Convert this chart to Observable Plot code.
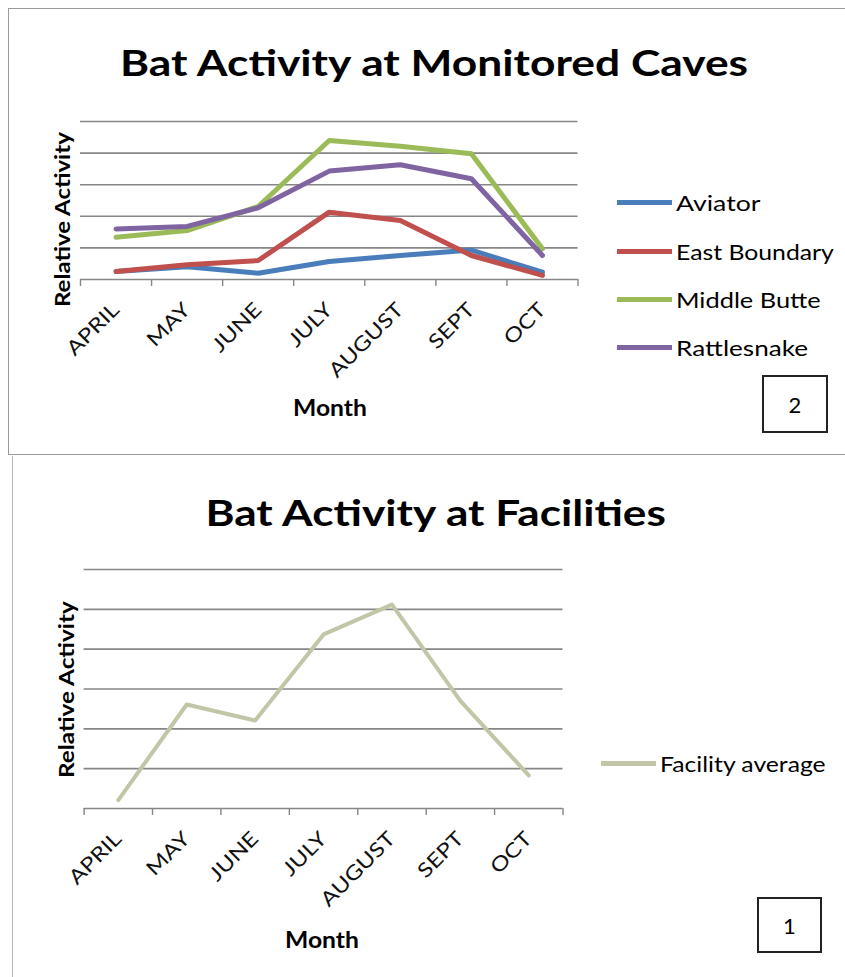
<!DOCTYPE html>
<html><head><meta charset="utf-8">
<script src="https://cdn.jsdelivr.net/npm/d3@7"></script>
<script src="https://cdn.jsdelivr.net/npm/@observablehq/plot@0.6"></script>
<style>
body{margin:0;background:#fff;width:845px;height:977px;position:relative;overflow:hidden;font-family:Lato,"Open Sans",sans-serif;color:#000}
.abs{position:absolute}
.c{white-space:nowrap;line-height:1.2}
.title{font-weight:bold;font-size:37px}
.ylab{font-weight:bold;font-size:21px;white-space:nowrap;line-height:1.2}
.xlab{font-weight:bold;font-size:22px}
.leg{font-size:21px;white-space:nowrap;display:flex;align-items:center;line-height:1.2}
.leg .t{display:inline-block;transform-origin:0 50%}
.sw{display:inline-block;width:55px;height:5px;margin-right:4px}
.box{border:2px solid #222;font-size:22px;display:flex;align-items:center;justify-content:center;box-sizing:border-box}
</style></head><body>
<script>
// ---- data ----
const months = ["APRIL", "MAY", "JUNE", "JULY", "AUGUST", "SEPT", "OCT"];
const seriesNames = ["Aviator", "East Boundary", "Middle Butte", "Rattlesnake"];
const aviator      = [0.25, 0.40, 0.20, 0.57, 0.76, 0.93, 0.23];
const eastBoundary = [0.25, 0.47, 0.60, 2.13, 1.87, 0.76, 0.13];
const middleButte  = [1.34, 1.55, 2.31, 4.40, 4.22, 3.98, 0.97];
const rattlesnake  = [1.60, 1.68, 2.27, 3.43, 3.63, 3.19, 0.76];
const seriesColors = ["#4A7EBB", "#C0504D", "#9BBB59", "#8064A2"];
const facilityName = "Facility average";
const facility     = [0.21, 2.61, 2.21, 4.37, 5.12, 2.70, 0.83];
const facilityColor = "#C2C5A6";
const topTitle = "Bat Activity at Monitored Caves";
const bottomTitle = "Bat Activity at Facilities";
const yTitle = "Relative Activity";
const xTitle = "Month";
const topTag = "2";
const bottomTag = "1";
const topGridCount = 5;
const bottomGridCount = 6;

const TICK_STRETCH = 1.2;

function el(tag, cls, css, text) {
  const e = document.createElement(tag);
  if (cls) e.className = cls;
  Object.assign(e.style, css);
  if (text != null) e.textContent = text;
  document.body.appendChild(e);
  return e;
}
// centered text stretched horizontally to a target width
function ctext(cls, cx, cy, text, targetW, rotate) {
  const e = el("div", "abs c " + cls, {left: "0px", top: "0px"}, text);
  const w = e.offsetWidth, h = e.offsetHeight;
  const s = targetW / w;
  e.style.left = (cx - w / 2) + "px";
  e.style.top = (cy - h / 2) + "px";
  e.style.transform = (rotate ? "rotate(" + rotate + "deg) " : "") + "scaleX(" + s + ")";
  return e;
}
function legend(x, cy, color, name, targetW) {
  const row = el("div", "abs leg", {left: x + "px", top: "0px"});
  const sw = document.createElement("span"); sw.className = "sw"; sw.style.background = color;
  const t = document.createElement("span"); t.className = "t"; t.textContent = name;
  row.appendChild(sw); row.appendChild(t);
  row.style.top = (cy - row.offsetHeight / 2) + "px";
  t.style.transform = "scaleX(" + (targetW / t.offsetWidth) + ")";
}

function chart({rows, colorDomain, colorRange, yMax, width, height, marginLeft, marginRight, marginTop, marginBottom, strokeWidth}) {
  const idx = d3.range(months.length);
  const bounds = d3.range(months.length + 1).map(i => i - 0.5);
  return Plot.plot({
    width, height, marginLeft, marginRight, marginTop, marginBottom,
    style: {background: "transparent", fontFamily: "Lato, 'Open Sans', sans-serif", overflow: "visible", color: "#000"},
    x: {domain: [-0.5, months.length - 0.5], label: null},
    y: {domain: [0, yMax], axis: null},
    color: {domain: colorDomain, range: colorRange},
    marks: [
      Plot.ruleY(d3.range(1, yMax + 1), {stroke: "#868686", strokeWidth: 1.6}),
      Plot.ruleY([0], {stroke: "#868686", strokeWidth: 1.6}),
      Plot.axisX(bounds, {tickSize: 7, tickFormat: () => "", stroke: "#868686", strokeWidth: 1.4, label: null}),
      Plot.axisX(idx, {tickSize: 0, tickPadding: 27, tickRotate: -45, tickFormat: i => months[i], fontSize: 20, fill: "#111", label: null}),
      Plot.line(rows, {x: "i", y: "value", z: "series", stroke: "series", strokeWidth, strokeLinejoin: "round", strokeLinecap: "round"})
    ]
  });
}
function stretchTicks(svg) {
  svg.querySelectorAll("text").forEach(t => {
    const tr = t.getAttribute("transform");
    if (tr && tr.includes("rotate")) t.setAttribute("transform", tr + " scale(" + TICK_STRETCH + ",1)");
  });
  svg.querySelectorAll("g[aria-label='x-axis tick label'] text").forEach(t => {
    if (!(t.getAttribute("transform") || "").includes("scale")) {
      const g = t.parentNode; const gt = g.getAttribute("transform") || "";
    }
  });
}

// panels
el("div", "abs", {left: "8px", top: "8px", width: "900px", height: "447px", border: "1.5px solid #9a9a9a", boxSizing: "border-box"});
el("div", "abs", {left: "12px", top: "456px", width: "900px", height: "600px", borderLeft: "1.5px solid #b5b5b5", boxSizing: "border-box"});

// ---- top chart ----
const topSeries = [aviator, eastBoundary, middleButte, rattlesnake];
const topRows = topSeries.flatMap((vals, s) => vals.map((value, i) => ({series: seriesNames[s], i, value})));
const topPlot = chart({rows: topRows, colorDomain: seriesNames, colorRange: seriesColors, yMax: topGridCount,
  width: 600, height: 460, marginLeft: 80, marginRight: 22.5, marginTop: 121, marginBottom: 181, strokeWidth: 5});
Object.assign(topPlot.style, {position: "absolute", left: "0px", top: "0px"});
document.body.appendChild(topPlot);
stretchTicks(topPlot);

ctext("title", 434, 62, topTitle, 628);
ctext("ylab", 61, 219, yTitle, 175, -90);
ctext("xlab", 330, 408, xTitle, 74);
const topLegY = [202, 251, 299, 347];
seriesNames.forEach((name, s) => legend(617, topLegY[s], seriesColors[s], name, [85, 158, 145, 132][s]));
el("div", "abs box", {left: "762px", top: "375px", width: "66px", height: "58px"}, topTag);

// ---- bottom chart ----
const botRows = facility.map((value, i) => ({series: facilityName, i, value}));
const botPlot = chart({rows: botRows, colorDomain: [facilityName], colorRange: [facilityColor], yMax: bottomGridCount,
  width: 600, height: 517, marginLeft: 83.6, marginRight: 37.5, marginTop: 109, marginBottom: 169, strokeWidth: 4});
Object.assign(botPlot.style, {position: "absolute", left: "0px", top: "460px"});
document.body.appendChild(botPlot);
stretchTicks(botPlot);

ctext("title", 435, 512, bottomTitle, 460);
ctext("ylab", 65, 689, yTitle, 177, -90);
ctext("xlab", 322, 940, xTitle, 74);
legend(601, 763, facilityColor, facilityName, 166);
el("div", "abs box", {left: "757px", top: "897px", width: "65px", height: "56px"}, bottomTag);
</script>
</body></html>
